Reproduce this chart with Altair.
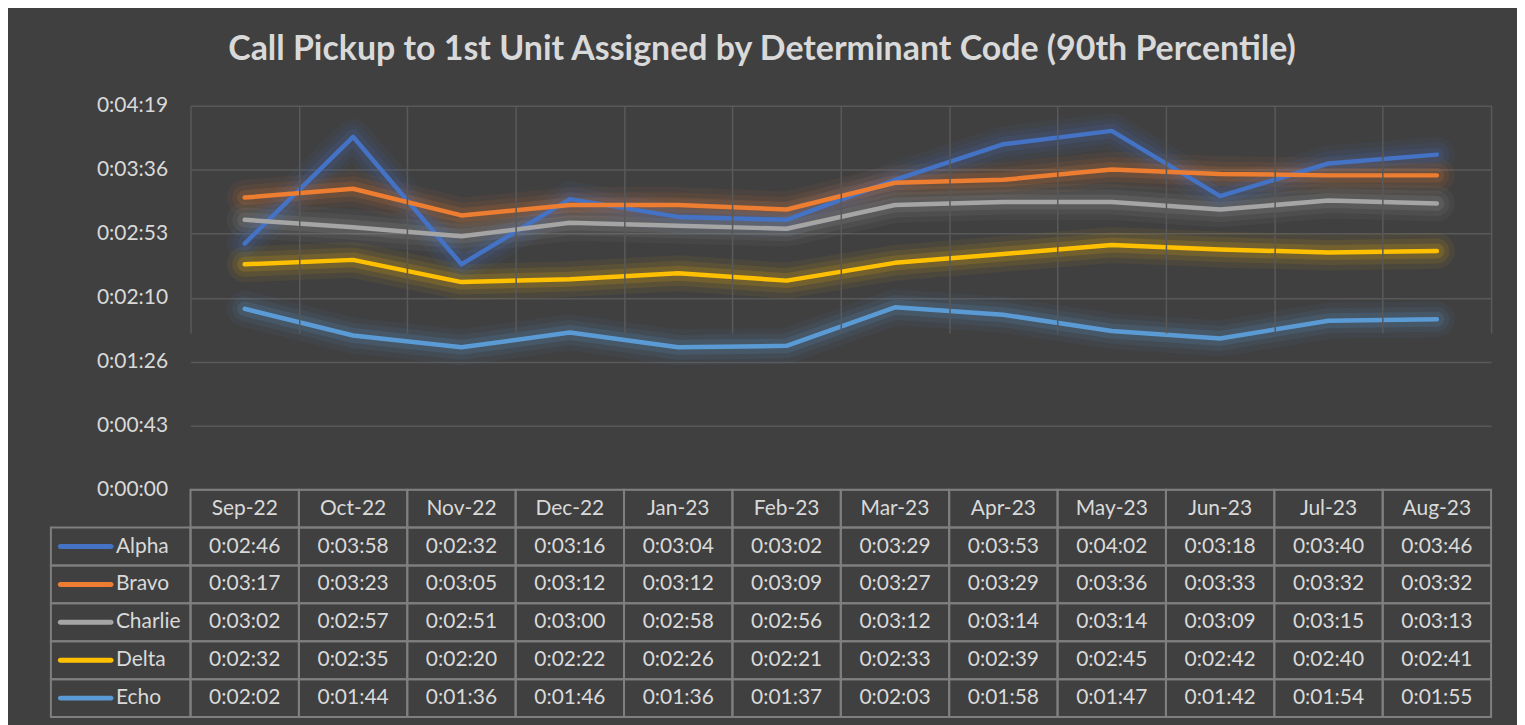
import altair as alt
import pandas as pd

# ---------------- data ----------------
months = ["Sep-22", "Oct-22", "Nov-22", "Dec-22", "Jan-23", "Feb-23",
          "Mar-23", "Apr-23", "May-23", "Jun-23", "Jul-23", "Aug-23"]
series = ["Alpha", "Bravo", "Charlie", "Delta", "Echo"]
colors = ["#4472C4", "#ED7D31", "#A5A5A5", "#FFC000", "#5B9BD5"]

alpha = ["2:46", "3:58", "2:32", "3:16", "3:04", "3:02", "3:29", "3:53", "4:02", "3:18", "3:40", "3:46"]
bravo = ["3:17", "3:23", "3:05", "3:12", "3:12", "3:09", "3:27", "3:29", "3:36", "3:33", "3:32", "3:32"]
charlie = ["3:02", "2:57", "2:51", "3:00", "2:58", "2:56", "3:12", "3:14", "3:14", "3:09", "3:15", "3:13"]
delta = ["2:32", "2:35", "2:20", "2:22", "2:26", "2:21", "2:33", "2:39", "2:45", "2:42", "2:40", "2:41"]
echo = ["2:02", "1:44", "1:36", "1:46", "1:36", "1:37", "2:03", "1:58", "1:47", "1:42", "1:54", "1:55"]

y_max_seconds = 259          # 0:04:19
y_tick_count = 6             # Excel major unit = max / 6

title_text = "Call Pickup to 1st Unit Assigned by Determinant Code (90th Percentile)"

# ---------------- tables ----------------
values = {"Alpha": alpha, "Bravo": bravo, "Charlie": charlie, "Delta": delta, "Echo": echo}


def to_sec(s):
    m, sec = s.split(":")
    return int(m) * 60 + int(sec)


line_rows, cell_rows = [], []
for s in series:
    for m, v in zip(months, values[s]):
        line_rows.append({"month": m, "series": s, "sec": to_sec(v)})
        cell_rows.append({"month": m, "row": s, "label": "0:0" + v if len(v) == 4 else "0:" + v})
for m in months:
    cell_rows.append({"month": m, "row": "header", "label": m})

df_lines = pd.DataFrame(line_rows)
df_cells = pd.DataFrame(cell_rows)
df_leg = pd.DataFrame({"series": series, "cell": ["legend"] * len(series)})
df_key = pd.DataFrame({"series": series, "key": ["key"] * len(series), "name": ["name"] * len(series)})

rows = ["header"] + series
tick_vals = [y_max_seconds * i / y_tick_count for i in range(y_tick_count + 1)]

PLOT_H = 385
TABLE_H = 228
W = 1304
FONT = "Lato"
TXT = "#d9d9d9"
GRID = "#595959"
BORDER = "#7f7f7f"

color_enc = alt.Color("series:N", scale=alt.Scale(domain=series, range=colors), legend=None)

# ---------------- line chart ----------------
label_expr = ("'0:' + (floor(round(datum.value)/60) < 10 ? '0' : '') + floor(round(datum.value)/60)"
              " + ':' + (round(datum.value) % 60 < 10 ? '0' : '') + (round(datum.value) % 60)")
y_axis = alt.Axis(values=tick_vals, labelExpr=label_expr, grid=True, gridColor=GRID, gridWidth=1.5,
                  ticks=False, domain=False, labelPadding=23, labelFontSize=21, labelFont=FONT,
                  labelColor=TXT, title=None)
x_line = alt.X("month:N", sort=months, scale=alt.Scale(type="point", domain=months, padding=0.5), axis=None)
y_line = alt.Y("sec:Q", scale=alt.Scale(domain=[0, y_max_seconds], range=[PLOT_H, 0], nice=False, zero=True),
               axis=y_axis)

base = alt.Chart(df_lines).encode(x=x_line, y=y_line, color=color_enc, detail="series:N")
glow1 = base.mark_line(strokeWidth=36, strokeOpacity=0.06, strokeCap="round", strokeJoin="round")
glow2 = base.mark_line(strokeWidth=25, strokeOpacity=0.09, strokeCap="round", strokeJoin="round")
glow3 = base.mark_line(strokeWidth=15, strokeOpacity=0.14, strokeCap="round", strokeJoin="round")
main = base.mark_line(strokeWidth=4.5, strokeCap="round", strokeJoin="round")
lines = alt.layer(glow1, glow2, glow3, main)

# ---------------- data table ----------------
y_band = alt.Y("row:N", scale=alt.Scale(type="band", domain=rows, range=[PLOT_H, PLOT_H + TABLE_H],
                                         paddingInner=0, paddingOuter=0), axis=None)
x_axis = alt.Axis(grid=True, tickBand="extent", gridColor=GRID, gridWidth=1.5, labels=False, ticks=False,
                  domain=False, title=None)
x_band = alt.X("month:N", sort=months, scale=alt.Scale(type="band", domain=months, paddingInner=0,
                                                       paddingOuter=0), axis=x_axis)

cells = alt.Chart(df_cells).mark_rect(fillOpacity=0, stroke=BORDER, strokeWidth=2).encode(x=x_band, y=y_band)
cell_text = alt.Chart(df_cells).mark_text(font=FONT, fontSize=21, color=TXT, baseline="middle").encode(
    x=alt.X("month:N", sort=months, scale=alt.Scale(type="band", domain=months, paddingInner=0,
                                                   paddingOuter=0), axis=x_axis, bandPosition=0.5),
    y=alt.Y("row:N", scale=alt.Scale(type="band", domain=rows, range=[PLOT_H, PLOT_H + TABLE_H],
                                     paddingInner=0, paddingOuter=0), axis=None, bandPosition=0.5),
    text="label:N")
table = alt.layer(cells, cell_text)

# legend column (left of the table)
y_leg = alt.Y("series:N", scale=alt.Scale(type="band", domain=rows, range=[PLOT_H, PLOT_H + TABLE_H],
                                           paddingInner=0, paddingOuter=0), axis=None)
leg_cells = alt.Chart(df_leg).mark_rect(fillOpacity=0, stroke=BORDER, strokeWidth=2).encode(
    x=alt.X("cell:N", scale=alt.Scale(type="band", domain=["legend"], range=[-140, 0], paddingInner=0,
                                      paddingOuter=0), axis=None),
    y=y_leg)

key_scale = alt.Scale(type="band", domain=["key", "name"], range=[-133, -19], paddingInner=0.04, paddingOuter=0)
key_bar = alt.Chart(df_key).mark_bar(height=5, cornerRadius=2.5).encode(
    x=alt.X("key:N", scale=key_scale, axis=None), y=y_leg, color=color_enc)
key_text = alt.Chart(df_key).mark_text(font=FONT, fontSize=21, color=TXT, align="left", baseline="middle").encode(
    x=alt.X("name:N", scale=key_scale, axis=None, bandPosition=0),
    y=alt.Y("series:N", scale=alt.Scale(type="band", domain=rows, range=[PLOT_H, PLOT_H + TABLE_H],
                                        paddingInner=0, paddingOuter=0), axis=None, bandPosition=0.5),
    text="series:N")
keys = alt.layer(key_bar, key_text)

rest = alt.layer(table, leg_cells, keys).resolve_scale(x="independent")

chart = alt.layer(lines, rest).resolve_scale(x="independent", y="independent").properties(
    width=W, height=PLOT_H + TABLE_H,
    title=alt.Title(title_text, font=FONT, fontSize=34, fontWeight="bold", color=TXT, anchor="middle",
                    dx=-79, offset=28),
    padding={"left": 183, "top": 97, "right": 26, "bottom": 7},
    autosize=alt.AutoSizeParams(type="none"),
    background="#404040",
).configure_view(stroke=None)

chart.save("out.html", embed_options={"renderer": "svg", "actions": False})
